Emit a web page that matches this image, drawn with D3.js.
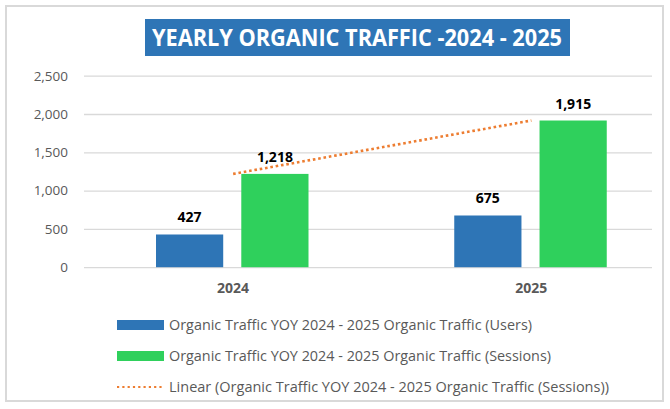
<!DOCTYPE html>
<html>
<head>
<meta charset="utf-8">
<script src="https://cdn.jsdelivr.net/npm/d3@7"></script>
<style>
  html, body { margin: 0; padding: 0; background: #ffffff; }
  svg { display: block; }
  text { font-family: "Open Sans", "Noto Sans", sans-serif; }
</style>
</head>
<body>
<svg id="chart" width="670" height="409"></svg>
<script>
const categories = ["2024", "2025"];
const usersValues = [427, 675];
const sessionsValues = [1218, 1915];
const yTicks = [0, 500, 1000, 1500, 2000, 2500];
const seriesNames = [
  "Organic Traffic YOY 2024 - 2025 Organic Traffic (Users)",
  "Organic Traffic YOY 2024 - 2025 Organic Traffic (Sessions)",
  "Linear (Organic Traffic YOY 2024 - 2025 Organic Traffic (Sessions))"
];
const titleText = "YEARLY ORGANIC TRAFFIC -2024 - 2025";

const svg = d3.select("#chart");
const colors = { users: "#2e75b6", sessions: "#2fd05c", trend: "#ed7d31" };

// outer border
svg.append("rect").attr("x", 6).attr("y", 6).attr("width", 657).attr("height", 395)
  .attr("fill", "#ffffff").attr("stroke", "#d9d9d9").attr("stroke-width", 2);

// title
svg.append("rect").attr("x", 145).attr("y", 19).attr("width", 425).attr("height", 37)
  .attr("fill", "#2e75b6");
svg.append("text").attr("x", 357).attr("y", 46).attr("text-anchor", "middle")
  .attr("fill", "#ffffff").attr("font-weight", "bold").attr("font-size", 23)
  .attr("textLength", 410).attr("lengthAdjust", "spacingAndGlyphs")
  .text(titleText);

// scales
const y = d3.scaleLinear().domain([0, 2500]).range([267.2, 75.7]);
const x = d3.scaleBand().domain(categories).range([84, 680.5]);
const xs = d3.scaleBand().domain(["users", "sessions"]).range([72, 224.5]).paddingInner(0.212);
const gridX0 = 84, gridX1 = 652;

// gridlines + y labels
const yAxis = d3.axisLeft(y).tickValues(yTicks).tickFormat(d3.format(","))
  .tickSize(-(gridX1 - gridX0)).tickPadding(16);
const gy = svg.append("g").attr("transform", `translate(${gridX0},0)`).call(yAxis);
gy.select(".domain").remove();
gy.selectAll(".tick line").attr("stroke", "#d9d9d9").attr("stroke-width", 1.3);
gy.selectAll(".tick text").attr("fill", "#595959").attr("font-size", 13.5)
  .attr("font-family", "'Open Sans', sans-serif");

// x labels
const xAxis = d3.axisBottom(x).tickSize(0).tickPadding(0);
const gx = svg.append("g").attr("transform", `translate(0,283)`).call(xAxis);
gx.select(".domain").remove();
gx.selectAll(".tick text").attr("fill", "#595959").attr("font-size", 14)
  .attr("font-weight", "bold").attr("dy", "0.72em")
  .attr("font-family", "'Open Sans', sans-serif");

// bars
const rows = categories.map((c, i) => ({ cat: c, users: usersValues[i], sessions: sessionsValues[i] }));
const groups = svg.append("g").selectAll("g").data(rows).join("g")
  .attr("transform", d => `translate(${x(d.cat)},0)`);
["users", "sessions"].forEach(k => {
  groups.append("rect")
    .attr("x", xs(k)).attr("width", xs.bandwidth())
    .attr("y", d => y(d[k])).attr("height", d => y(0) - y(d[k]))
    .attr("fill", colors[k]);
  groups.append("text")
    .attr("x", xs(k) + xs.bandwidth() / 2).attr("y", d => y(d[k]) - 12)
    .attr("text-anchor", "middle").attr("font-weight", "bold").attr("font-size", 14)
    .attr("fill", "#000000")
    .text(d => d3.format(",")(d[k]));
});

// linear trendline (least squares over sessions)
const n = sessionsValues.length;
const xi = sessionsValues.map((_, i) => i + 1);
const mx = d3.mean(xi), my = d3.mean(sessionsValues);
const slope = d3.sum(xi.map((v, i) => (v - mx) * (sessionsValues[i] - my))) / d3.sum(xi.map(v => (v - mx) ** 2));
const icpt = my - slope * mx;
const trendPts = categories.map((c, i) => [x(c) + x.bandwidth() / 2, y(icpt + slope * (i + 1))]);
svg.append("path").attr("d", d3.line()(trendPts))
  .attr("fill", "none").attr("stroke", colors.trend).attr("stroke-width", 2.6)
  .attr("stroke-dasharray", "2.6 2.8");

// legend
const legendY = [325, 356, 387];
const legendW = [363, 382, 440];
const lg = svg.append("g");
seriesNames.forEach((name, i) => {
  const yy = legendY[i];
  if (i < 2) {
    lg.append("rect").attr("x", 117).attr("y", yy - 5).attr("width", 47).attr("height", 10)
      .attr("fill", i === 0 ? colors.users : colors.sessions);
  } else {
    lg.append("line").attr("x1", 117).attr("x2", 164).attr("y1", yy).attr("y2", yy)
      .attr("stroke", colors.trend).attr("stroke-width", 2.2).attr("stroke-dasharray", "2.2 3.1");
  }
  lg.append("text").attr("x", 169).attr("y", yy + 5).attr("fill", "#595959")
    .attr("font-size", 14).attr("textLength", legendW[i]).attr("lengthAdjust", "spacingAndGlyphs")
    .text(name);
});
</script>
</body>
</html>
